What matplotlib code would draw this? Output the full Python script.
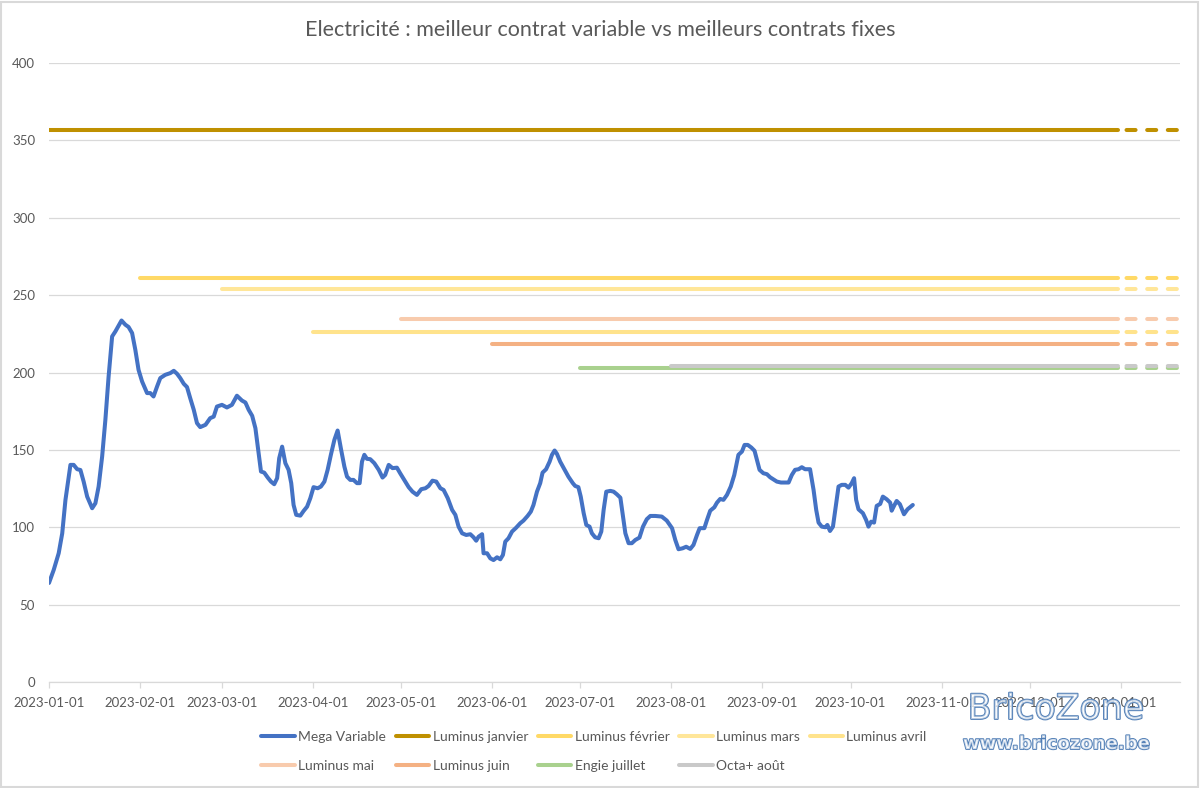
import datetime as dt
import matplotlib
matplotlib.use("Agg")
import matplotlib.pyplot as plt
import matplotlib.patheffects as pe
from matplotlib.patches import Rectangle

plt.rcParams['font.family'] = ['Lato', 'DejaVu Sans']

TITLE = "Electricité : meilleur contrat variable vs meilleurs contrats fixes"
START = dt.datetime(2023, 1, 1)

# Mega Variable: day offset from 2023-01-01 and price
var_day = [0, 1.6, 3.3, 4.5, 5.6, 7.3, 8.4, 9.6, 10.7, 11.8, 13, 14.7, 15.8, 16.9, 18.1, 19.2, 20.3, 21.5,
           22.6, 23.5, 24.7, 26, 27.1, 28.3, 29.4, 30.5, 31.7, 33.4, 34.5, 35.6, 36.8, 37.9, 39.6, 41.3,
           42.5, 43.6, 44.7, 45.9, 47, 48.1, 49.3, 50.4, 51.5, 53.3, 54.9, 56.1, 57.2, 58.9, 60.6,
           62.3, 64, 65.7, 66.9, 68, 69.2, 70.3, 71.4, 72.2, 73.3, 74.5, 75.6, 76.7, 77.7, 78.4, 79.4,
           80.5, 81.6, 82.5, 83.3, 84.2, 85.6, 86.7, 87.9, 89, 90.1, 91.5, 92.6, 93.8, 94.9, 96, 97.2,
           98.3, 99.5, 100.6, 101.5, 102.6, 103.7, 104.9, 105.8, 106.6, 107.4, 108.3, 109.4, 110.8,
           112.3, 113.6, 114.5, 115.7, 117, 118.5, 119.6, 121, 122.5, 123.8, 125.3, 126.8, 128.2,
           129.3, 130.6, 131.9, 133.3, 134.4, 135.8, 137.3,
           138.4, 139.5, 140.7, 142.1, 143.5, 144.6, 145.5, 146.3, 147.5, 148, 149.2, 150.3, 151.4,
           152.6, 153.7, 154.6, 155.4, 156.5, 157.7, 159.1, 160.5, 161.6, 163, 164.1, 165, 166.2,
           167.3, 168.1, 169.3, 170.5, 171.3, 172.2, 173, 174.1, 175.5, 176.9, 178.4, 179.2, 180.3,
           181.1, 182.1, 183, 184.1, 184.9, 186, 187.2, 188.1, 188.9, 189.8, 191.2, 192.3, 193.4,
           194.6, 195.5, 196.3, 197.4, 198.5, 199.7, 201.1, 202.3, 203.6, 204.8, 206.5,
           208.7, 210.4, 212.2, 213.3, 214.4, 215.8, 217, 218.4, 219.5, 220.7, 221.6, 223.2, 224.1,
           225.2, 226.6, 227.5, 228.6, 229.7, 230.9, 232.2, 233.4, 234.8, 236, 236.9, 238, 239.2,
           240.3, 241.1, 242, 243.3, 244.5, 245.6, 246.7, 247.9, 249.3, 250.7, 251.9, 253, 254.1,
           255.3, 256.4, 257.5, 259.2, 260.4, 261.3, 262.1, 263.2, 264.4, 265.1, 266, 267, 267.8,
           268.9, 270, 271.2, 272.3, 273.4, 274.2, 274.9, 275.7, 277.2, 278.3, 279.1, 280, 281,
           281.9, 283.1, 284, 285.3, 286.5, 287, 287.8, 288.7, 289.8, 291.2, 292.4, 294.2]
var_value = [64, 72.4, 83.2, 96, 117.6, 140.3, 140.3, 137.5, 137, 129.5, 119.8, 112.3, 115.5, 126.3, 145.7,
             169.4, 197.4, 223.3, 226.5, 229.5, 233.6, 230.9, 229.4, 225.5, 214.7, 201.7, 194.2, 186.7,
             186.7, 184.5, 190.9, 196.4, 198.5, 199.6, 201.1, 199.2, 196.4, 192.7, 190.6, 183.4, 175.9,
             167.3, 164.7, 166.2, 170.5, 171.5, 178, 179.1, 177.4,
             179.1, 185, 181.9, 180.6, 175.9, 172, 164, 147.9, 136, 135.3, 132.1, 129.5, 127.8, 131.7,
             144.6, 152.1, 141.4, 137.1, 128.5, 114.4, 108, 107.5, 110.5, 113.3, 118.8, 125.9, 125.2,
             126.3, 129.5, 137.1, 146.8, 156.5, 162.5, 150, 139.2, 132.7, 130.6, 130.6, 128.5, 128.5,
             142.4, 146.8, 144.2, 144, 141.4, 137.1, 132.1, 133.8, 140.3, 138.2, 138.5, 134.9, 130.6,
             125.9, 123, 120.9, 124.6, 125.2, 126.7, 130.1, 129.5, 125.2, 124.1, 118.8, 111.2,
             108, 100.4, 96.1, 95, 95.5, 93.5, 91.3, 93.9, 95.5, 83.2, 83.2, 79.9, 78.8, 80.6, 79.3,
             82.1, 90.7, 92.9, 97.2, 99.7, 102.6, 104.3, 107.3, 110.1, 114.4, 123, 128.5, 135.3, 137.5,
             142.4, 146.8, 149.6, 147.4, 142.4, 137.5, 132.7, 128.5, 126.7, 125.9, 119.8, 109.1, 101.5,
             100.4, 96.1, 93.5, 92.9, 97.2, 111.2, 123, 123.5, 123, 121.3, 119.1, 106.9, 96.1, 89.7,
             89.7, 91.8, 93.3, 100.4, 105.2, 107.3, 107.3,
             106.9, 104.3, 99.4, 91.8, 85.8, 86.4, 87.4, 86, 88.6, 95, 99.4, 99.4, 104.7, 110.7, 112.9,
             115.9, 118.3, 117.7, 120.9, 126.3, 133.8, 146.8, 148.9, 153.2, 153.2, 151.5, 149.4, 143.5,
             137.1, 134.9, 134.3, 132.3, 131, 129.5, 128.9, 128.9, 128.9, 133.8, 137.1, 137.5, 138.8,
             137.5, 137.5, 124.1, 111.2, 103, 100.4, 100, 101.5, 97.6, 100.4, 111.2, 126.3, 127.4,
             127.4, 125.6, 128.5, 131.7, 117.7, 111.6, 109.1, 104.7, 100.4, 103.6, 103, 113.8, 115.1,
             119.8, 118.1, 115.9, 110.7, 113.8, 117, 114.9, 108.4, 111.6, 114.4]

# Fixed contracts
contract_names = ["Luminus janvier", "Luminus février", "Luminus mars", "Luminus avril",
                  "Luminus mai", "Luminus juin", "Engie juillet", "Octa+ août"]
contract_start = ["2023-01-01", "2023-02-01", "2023-03-01", "2023-04-01",
                  "2023-05-01", "2023-06-01", "2023-07-01", "2023-08-01"]
contract_price = [356.5, 261.1, 253.7, 225.9, 234.3, 218.6, 202.6, 204.5]
contract_colors = ["#BF9000", "#FFD966", "#FFE699", "#FFE38C",
                   "#F8CBAD", "#F4B183", "#A9D18E", "#C9C9C9"]
solid_end = "2023-12-31"
dash_start = "2024-01-02"
dash_end = "2024-01-21"

x_tick_labels = ["2023-01-01", "2023-02-01", "2023-03-01", "2023-04-01", "2023-05-01", "2023-06-01",
                 "2023-07-01", "2023-08-01", "2023-09-01", "2023-10-01", "2023-11-01", "2023-12-01",
                 "2024-01-01"]

GRID = "#D9D9D9"
TXT = "#595959"

def d(s):
    return dt.datetime.strptime(s, "%Y-%m-%d")

fig = plt.figure(figsize=(12, 7.88), dpi=100)
fig.patches.append(Rectangle((0.001, 0.001), 0.997, 0.997, transform=fig.transFigure,
                             fill=False, edgecolor=GRID, linewidth=1.5))
ax = fig.add_axes([49 / 1200, 1 - 682 / 788, (1180 - 49) / 1200, (682 - 63) / 788])

lw = 2.9
handles = []
xs = [START + dt.timedelta(days=v) for v in var_day]
h, = ax.plot(xs, var_value, color="#4472C4", lw=lw, solid_capstyle="round",
             solid_joinstyle="round", label="Mega Variable", zorder=5)
handles.append(h)

for name, s, p, c in zip(contract_names, contract_start, contract_price, contract_colors):
    h, = ax.plot([d(s), d(solid_end)], [p, p], color=c, lw=lw, solid_capstyle="round", label=name,
                 zorder=3)
    ax.plot([d(dash_start), d(dash_end)], [p, p], color=c, lw=lw,
            linestyle=(4.5, (2.25, 2.875)), dash_capstyle="round", zorder=3)
    handles.append(h)

ax.set_ylim(0, 400)
ax.set_yticks(range(0, 401, 50))
ax.set_xlim(START, START + dt.timedelta(days=385.2))
ax.set_xticks([d(s) for s in x_tick_labels])
ax.set_xticklabels(x_tick_labels)
ax.yaxis.grid(True, color=GRID, lw=0.9)
ax.set_axisbelow(True)
for sp in ["top", "right", "left"]:
    ax.spines[sp].set_visible(False)
ax.spines["bottom"].set_color(GRID)
ax.spines["bottom"].set_linewidth(0.9)
ax.tick_params(axis="x", colors=GRID, length=4, width=0.9, pad=7, labelcolor=TXT, labelsize=9.5)
ax.tick_params(axis="y", length=0, pad=10, labelcolor=TXT, labelsize=9.5)

fig.text(0.5, 1 - 30 / 788, TITLE, ha="center", va="center", fontsize=15.5, color=TXT)

order = [0, 5, 1, 6, 2, 7, 3, 8, 4]
leg = fig.legend([handles[i] for i in order], [handles[i].get_label() for i in order],
                 loc="center", bbox_to_anchor=(594 / 1200, 1 - 751.5 / 788), ncol=5,
                 frameon=False, fontsize=10, handlelength=2.4, handletextpad=0.25,
                 columnspacing=0.7, labelspacing=1.25)
for t in leg.get_texts():
    t.set_color(TXT)

wm_fx = [pe.Stroke(linewidth=1.3, foreground="#4F7DB5"), pe.Normal()]
fig.text(1056 / 1200, 1 - 709 / 788, "BricoZone", ha="center", va="center", fontsize=25,
         family="DejaVu Sans", color=(1, 1, 1, 0.55), path_effects=wm_fx)
fig.text(1056 / 1200, 1 - 744 / 788, "www.bricozone.be", ha="center", va="center", fontsize=13,
         family="DejaVu Sans", weight="bold", color=(1, 1, 1, 0.7), path_effects=wm_fx)

fig.savefig("out.png", dpi=100)
